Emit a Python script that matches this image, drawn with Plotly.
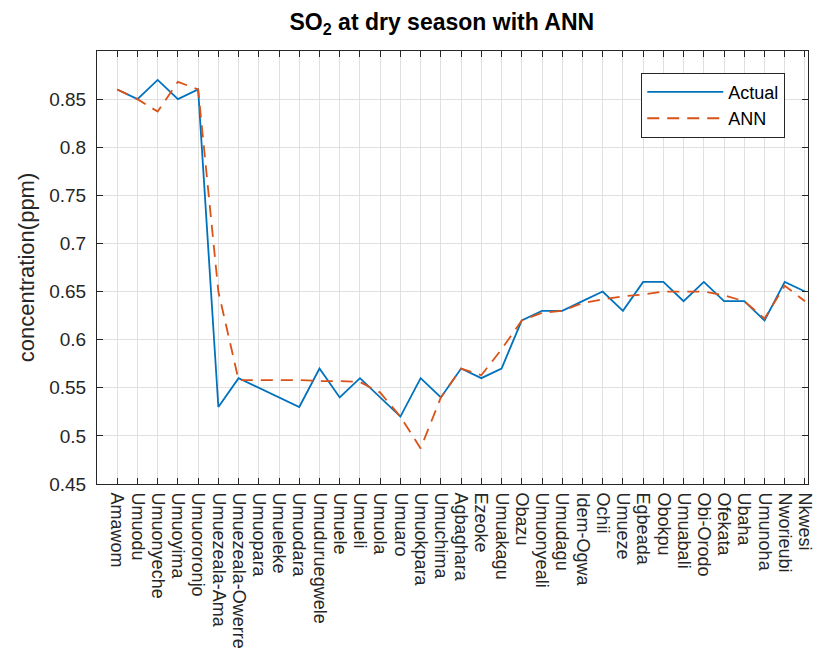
import plotly.graph_objects as go

sites = ["Amawom", "Umuodu", "Umuonyeche", "Umuoyima", "Umuororonjo",
         "Umuezeala-Ama", "Umuezeala-Owerre", "Umuopara", "Umueleke", "Umuodara",
         "Umuduruegwele", "Umuele", "Umueli", "Umuola", "Umuaro", "Umuokpara",
         "Umuchima", "Agbaghara", "Ezeoke", "Umuakagu", "Obazu", "Umuonyeali",
         "Umudagu", "Idem-Ogwa", "Ochii", "Umueze", "Egbeada", "Obokpu",
         "Umuabali", "Obi-Orodo", "Ofekata", "Ubaha", "Umunoha", "Nworieubi", "Nkwesi"]

actual = [0.86, 0.85, 0.87, 0.85, 0.86, 0.53, 0.56, 0.55, 0.54, 0.53,
          0.57, 0.54, 0.56, 0.54, 0.52, 0.56, 0.54, 0.57, 0.56, 0.57,
          0.62, 0.63, 0.63, 0.64, 0.65, 0.63, 0.66, 0.66, 0.64, 0.66,
          0.64, 0.64, 0.62, 0.66, 0.65]

ann = [0.86, 0.85, 0.837, 0.868, 0.86, 0.65, 0.558, 0.558, 0.558, 0.558,
       0.557, 0.557, 0.556, 0.545, 0.52, 0.487, 0.54, 0.57, 0.563, 0.59,
       0.62, 0.628, 0.63, 0.638, 0.642, 0.645, 0.647, 0.65, 0.65, 0.65,
       0.646, 0.64, 0.622, 0.656, 0.64]

y_ticks = [0.45, 0.5, 0.55, 0.6, 0.65, 0.7, 0.75, 0.8, 0.85]
y_ticktext = ["0.45", "0.5", "0.55", "0.6", "0.65", "0.7", "0.75", "0.8", "0.85"]

FONT = "Liberation Sans, Arial, Helvetica, sans-serif"
AX = "#262626"

fig = go.Figure()
fig.add_trace(go.Scatter(x=sites, y=actual, mode="lines", name="Actual",
                         line=dict(color="#0072BD", width=1.8)))
fig.add_trace(go.Scatter(x=sites, y=ann, mode="lines", name="ANN",
                         line=dict(color="#D95319", width=1.8, dash="12px,8px")))

fig.update_layout(
    width=815, height=668,
    margin=dict(l=97, r=7, t=51, b=184, autoexpand=False),
    paper_bgcolor="white", plot_bgcolor="white",
    font=dict(family=FONT, size=19, color=AX),
    title=dict(text="<b>SO<sub>2</sub> at dry season with ANN</b>",
               font=dict(family=FONT, size=23, color="black"),
               x=0.485, xref="paper", xanchor="center",
               y=1 - 14 / 668, yref="container", yanchor="top"),
    legend=dict(x=0.968, y=0.95, xanchor="right", yanchor="top",
                bgcolor="white", bordercolor="#262626", borderwidth=1,
                font=dict(family=FONT, size=18, color="black"),
                itemwidth=76, tracegroupgap=0),
    showlegend=True,
)

fig.update_xaxes(
    type="category", range=[-1, 34.15],
    tickmode="array", tickvals=sites, ticktext=sites,
    tickangle=90, tickfont=dict(family=FONT, size=18, color=AX),
    showgrid=True, gridcolor="#e0e0e0", gridwidth=1,
    showline=True, linecolor=AX, linewidth=1, mirror="ticks",
    ticks="inside", ticklen=6, tickcolor=AX, tickwidth=1,
    zeroline=False, ticklabelstandoff=4,
)
fig.update_yaxes(
    range=[0.45, 0.9], tickvals=y_ticks, ticktext=y_ticktext,
    tickfont=dict(family=FONT, size=19, color=AX),
    showgrid=True, gridcolor="#e0e0e0", gridwidth=1,
    showline=True, linecolor=AX, linewidth=1, mirror="ticks",
    ticks="inside", ticklen=6, tickcolor=AX, tickwidth=1,
    zeroline=False, ticklabelstandoff=6,
    title=dict(text="concentration(ppm)", font=dict(family=FONT, size=22, color=AX),
               standoff=8),
)

fig.write_html("out.html")
